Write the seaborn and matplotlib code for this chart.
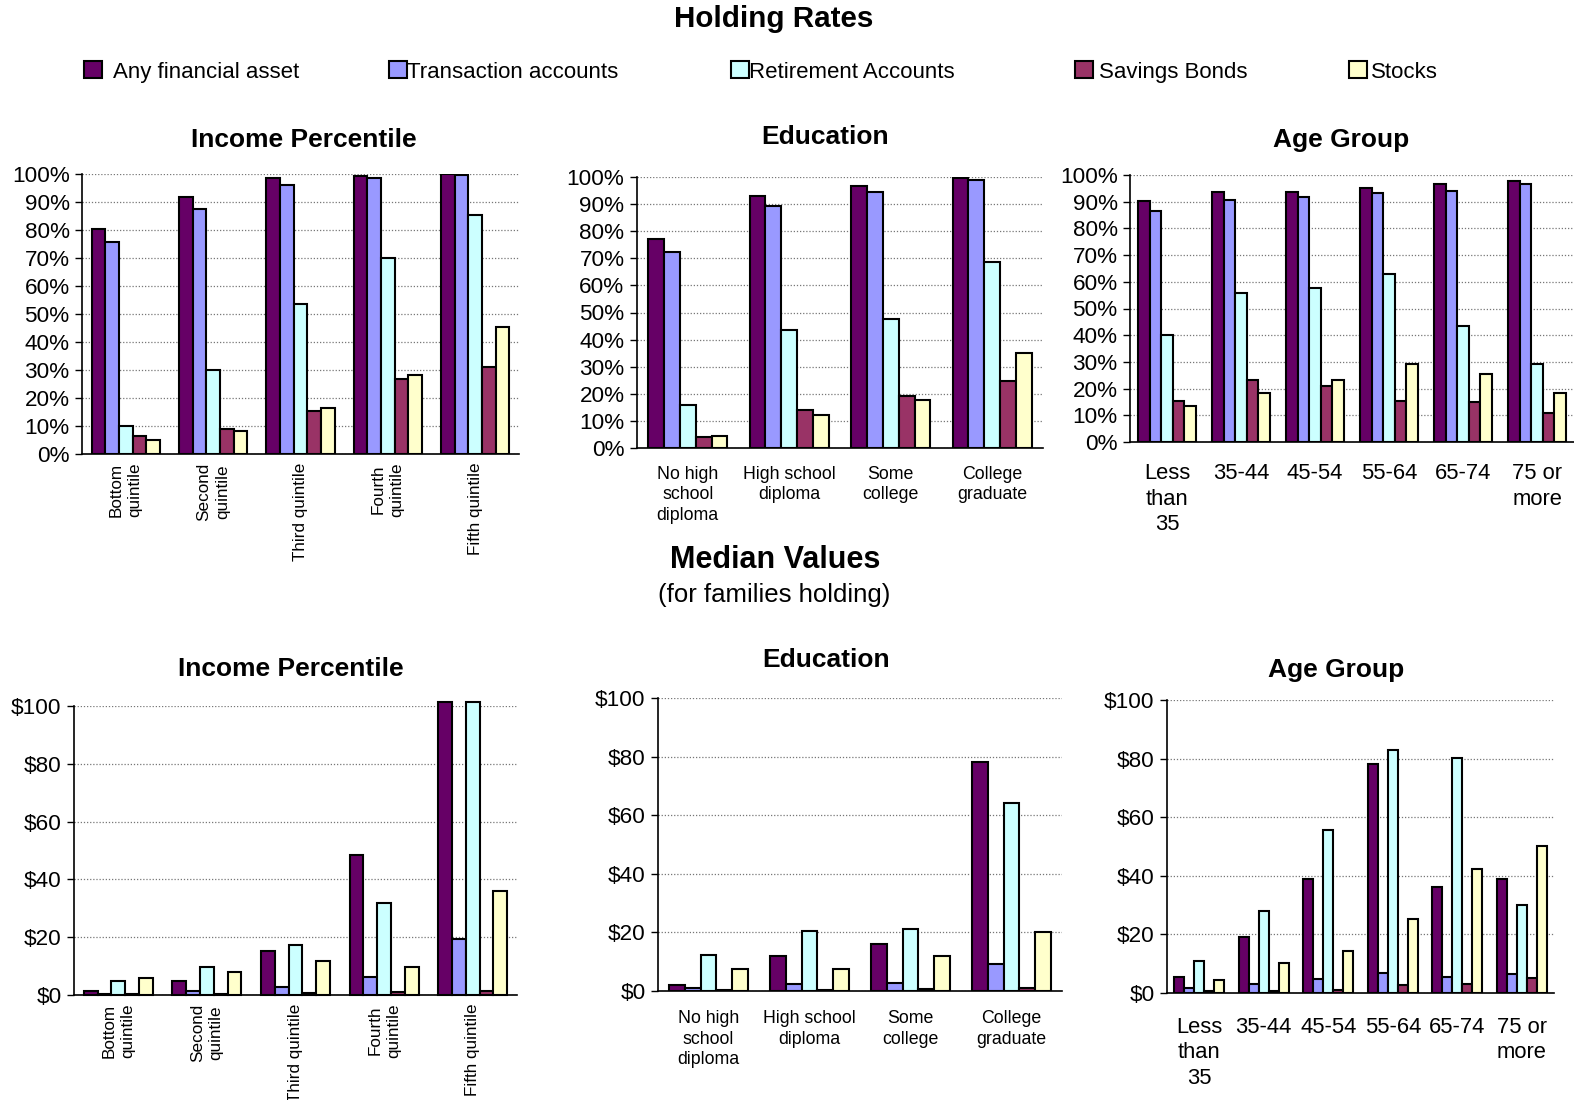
import numpy as np
import pandas as pd
import matplotlib
matplotlib.use("Agg")
import matplotlib.pyplot as plt
import seaborn as sns
from matplotlib.patches import Patch
from matplotlib.ticker import FuncFormatter

# --- data ---
series = ['Any financial asset', 'Transaction accounts', 'Retirement Accounts',
          'Savings Bonds', 'Stocks']
colors = ['#660066', '#9999FF', '#CCFFFF', '#993366', '#FFFFCC']

income_cats = ['Bottom\nquintile', 'Second\nquintile', 'Third quintile',
               'Fourth\nquintile', 'Fifth quintile']
edu_cats = ['No high\nschool\ndiploma', 'High school\ndiploma', 'Some\ncollege',
            'College\ngraduate']
age_cats = ['Less\nthan\n35', '35-44', '45-54', '55-64', '65-74', '75 or\nmore']

# holding rates (%), one row per category, columns follow `series`
hold_income = [
    [80.2, 75.6, 10.1, 6.3, 5.1],
    [91.7, 87.5, 30.1, 8.8, 8.3],
    [98.7, 96.1, 53.6, 15.5, 16.5],
    [99.4, 98.6, 70.0, 26.8, 28.3],
    [100.0, 99.8, 85.2, 31.1, 45.5],
]
hold_edu = [
    [77.2, 72.3, 16.0, 4.2, 4.6],
    [93.0, 89.2, 43.4, 14.1, 12.2],
    [96.6, 94.3, 47.5, 19.2, 17.6],
    [99.6, 99.0, 68.8, 24.8, 35.2],
]
hold_age = [
    [90.1, 86.5, 40.2, 15.4, 13.4],
    [93.6, 90.8, 55.9, 23.2, 18.5],
    [93.6, 91.9, 57.8, 20.9, 23.1],
    [95.1, 93.3, 62.9, 15.3, 29.3],
    [96.5, 94.0, 43.3, 14.9, 25.5],
    [97.6, 96.5, 29.3, 10.9, 18.4],
]

# median values for families holding (thousands of $)
# fifth quintile "any" and "retirement" run off the top of the scale
med_income = [
    [1.3, 0.5, 4.9, 0.3, 5.9],
    [4.8, 1.4, 9.8, 0.3, 7.9],
    [15.3, 2.9, 17.2, 0.8, 11.8],
    [48.5, 6.4, 31.9, 0.9, 9.8],
    [101.4, 19.5, 101.4, 1.4, 35.9],
]
med_edu = [
    [2.2, 1.0, 12.2, 0.4, 7.5],
    [11.9, 2.4, 20.4, 0.4, 7.5],
    [16.0, 2.6, 21.0, 0.8, 11.9],
    [78.3, 9.1, 64.3, 0.9, 20.0],
]
med_age = [
    [5.3, 1.7, 11.0, 0.6, 4.3],
    [19.1, 3.2, 28.1, 0.6, 10.1],
    [38.8, 4.8, 55.6, 1.1, 14.5],
    [78.0, 6.7, 83.1, 2.6, 25.1],
    [36.1, 5.5, 80.1, 3.2, 42.2],
    [38.9, 6.6, 30.0, 5.0, 50.1],
]

sns.set_style('white')
plt.rcParams['font.family'] = ['Liberation Sans', 'DejaVu Sans']
plt.rcParams['text.color'] = 'black'
plt.rcParams['xtick.color'] = 'black'
plt.rcParams['ytick.color'] = 'black'

W, H = 1574, 1100
fig = plt.figure(figsize=(W / 100, H / 100), dpi=100)


def px_axes(left, top, right, bottom):
    return fig.add_axes([left / W, 1 - bottom / H, (right - left) / W, (bottom - top) / H])


def to_frame(cats, rows):
    recs = []
    for cat, row in zip(cats, rows):
        for s, v in zip(series, row):
            recs.append({'group': cat, 'series': s, 'value': v})
    return pd.DataFrame(recs)


def draw_panel(ax, cats, rows, yticks, fmt, label_size, rot=0, pad=6,
               spacing=1.2, clip=True):
    df = to_frame(cats, rows)
    sns.barplot(data=df, x='group', y='value', hue='series', order=cats,
                hue_order=series, palette=colors, width=0.78, edgecolor='black',
                linewidth=1.5, saturation=1, legend=False, ax=ax)
    n = len(cats)
    ax.set_xlim(-0.5, n - 0.5)
    ax.set_ylim(0, yticks[-1])
    ax.set_yticks(yticks)
    ax.yaxis.set_major_formatter(FuncFormatter(fmt))
    ax.set_xticks(np.arange(-0.5, n), minor=True)
    ax.tick_params(axis='x', which='minor', length=6, width=1, color='black')
    ax.tick_params(axis='x', which='major', length=0, labelsize=label_size,
                   labelrotation=rot, pad=pad)
    ax.tick_params(axis='y', which='major', length=5, width=1, color='black',
                   labelsize=16.2, left=True, pad=4)
    for lab in ax.get_xticklabels():
        lab.set_linespacing(spacing)
    ax.set_xlabel('')
    ax.set_ylabel('')
    ax.yaxis.grid(True, linestyle=(0, (1, 1.5)), color='#777777', linewidth=0.9)
    ax.set_axisbelow(True)
    for side in ['top', 'right']:
        ax.spines[side].set_visible(False)
    for side in ['left', 'bottom']:
        ax.spines[side].set_color('black')
        ax.spines[side].set_linewidth(1.2)
    if not clip:
        for p in ax.patches:
            p.set_clip_on(False)


pct = lambda v, p: f'{v:.0f}%'
dollar = lambda v, p: f'${v:.0f}'
pct_ticks = list(range(0, 101, 10))
usd_ticks = list(range(0, 101, 20))

ax1 = px_axes(82, 174, 519, 454)
draw_panel(ax1, income_cats, hold_income, pct_ticks, pct, 12.3, rot=90, pad=6,
           spacing=1.3)
ax2 = px_axes(637, 177, 1043, 448)
draw_panel(ax2, edu_cats, hold_edu, pct_ticks, pct, 12.8, pad=13, spacing=1.25)
ax3 = px_axes(1130, 175, 1574, 442)
draw_panel(ax3, age_cats, hold_age, pct_ticks, pct, 15.8, pad=15, spacing=1.3)

ax4 = px_axes(74, 706, 517, 995)
draw_panel(ax4, income_cats, med_income, usd_ticks, dollar, 12.3, rot=90, pad=6,
           spacing=1.3, clip=False)
ax5 = px_axes(658, 698, 1062, 991)
draw_panel(ax5, edu_cats, med_edu, usd_ticks, dollar, 12.8, pad=14, spacing=1.25)
ax6 = px_axes(1167, 700, 1554, 993)
draw_panel(ax6, age_cats, med_age, usd_ticks, dollar, 15.8, pad=17, spacing=1.3)


def ftext(x, y, s, size, weight='normal'):
    fig.text(x / W, 1 - y / H, s, ha='center', va='center', fontsize=size,
             fontweight=weight)


ftext(774, 19, 'Holding Rates', 21.3, 'bold')
ftext(304, 140, 'Income Percentile', 19, 'bold')
ftext(825, 137, 'Education', 19, 'bold')
ftext(1341, 140, 'Age Group', 19, 'bold')
ftext(775, 560, 'Median Values', 22, 'bold')
ftext(774, 595, '(for families holding)', 18.5)
ftext(291, 669, 'Income Percentile', 19, 'bold')
ftext(826, 660, 'Education', 19, 'bold')
ftext(1336, 670, 'Age Group', 19, 'bold')

# legend: one entry per series at its own spot, as in the reference
leg_x = [84, 389, 731, 1075, 1349]
leg_pad = [0.5, 0.0, 0.0, 0.3, 0.2]
for s, c, x, tp in zip(series, colors, leg_x, leg_pad):
    fig.legend(handles=[Patch(facecolor=c, edgecolor='black', linewidth=1.5, label=s)],
               loc='center left', bbox_to_anchor=(x / W, 1 - 72 / H),
               frameon=False, fontsize=16, handlelength=0.8,
               handleheight=0.8, handletextpad=tp, borderpad=0,
               borderaxespad=0)

fig.savefig('out.png', dpi=100)
